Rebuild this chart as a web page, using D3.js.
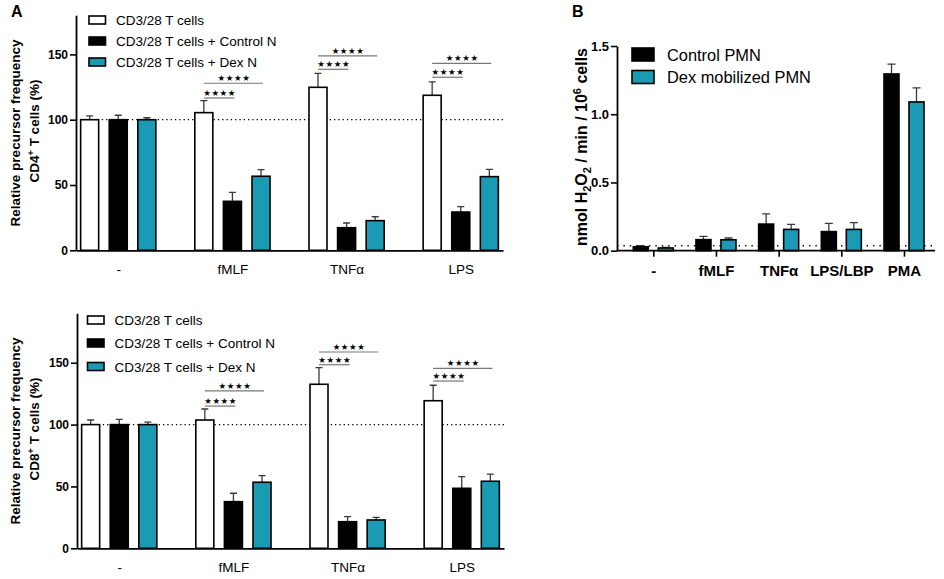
<!DOCTYPE html>
<html>
<head>
<meta charset="utf-8">
<script src="https://cdn.jsdelivr.net/npm/d3@7"></script>
<style>
  body { margin: 0; background: #fff; }
  svg { font-family: "Liberation Sans", Arial, sans-serif; }
</style>
</head>
<body>
<svg id="chart" width="944" height="579"></svg>
<script>
// ---- data ----
var stimuli = ['-', 'fMLF', 'TNF\u03b1', 'LPS'];
var seriesA = ['CD3/28 T cells', 'CD3/28 T cells + Control N', 'CD3/28 T cells + Dex N'];

// CD4+ panel: mean and mean+SEM, one row per series
var cd4Mean = [[100, 105.4, 124.8, 118.7], [100, 37.5, 17.3, 29.3], [100, 56.7, 22.7, 56.4]];
var cd4Upper = [[103, 114.6, 135.5, 128.9], [103.4, 44.4, 20.9, 33.4], [101.5, 61.7, 25.7, 62]];
// significance brackets: level of the short (vs Control N) and long (vs Dex N) bar
var cd4SigShort = [null, 116.6, 138.6, 132.5];
var cd4SigLong = [null, 127.9, 148.8, 143.2];

// CD8+ panel
var cd8Mean = [[100, 103.7, 132.6, 119.3], [100, 37.7, 21.5, 48.5], [100, 53.4, 22.9, 54.2]];
var cd8Upper = [[103.7, 112.6, 146, 131.8], [104.3, 44.5, 25.6, 57.9], [102, 58.7, 25, 60]];
var cd8SigShort = [null, 115, 148.4, 135.2];
var cd8SigLong = [null, 127.2, 158.7, 145.5];

var yTicksA = [0, 50, 100, 150];

// panel B
var stimuliB = ['-', 'fMLF', 'TNF\u03b1', 'LPS/LBP', 'PMA'];
var seriesB = ['Control PMN', 'Dex mobilized PMN'];
var h2o2Mean = [[0.029, 0.081, 0.195, 0.14, 1.295], [0.02, 0.08, 0.156, 0.156, 1.09]];
var h2o2Upper = [[0.037, 0.105, 0.27, 0.2, 1.367], [0.025, 0.093, 0.193, 0.205, 1.193]];
var h2o2Baseline = 0.036;
var yTicksB = [0, 0.5, 1.0, 1.5];

var fillsA = ['#ffffff', '#000000', '#1b9ab4'];
var fillsB = ['#000000', '#1b9ab4'];
var errColor = '#3a3a3a';

var svg = d3.select('#chart');

function drawPanelA(cfg) {
  var g = svg.append('g');
  var y = d3.scaleLinear().domain([0, cfg.yMax]).range([cfg.y0, cfg.yTop]);
  var x = d3.scalePoint().domain(stimuli).range([cfg.x0, cfg.x1]).padding(0.37);
  var inner = d3.scaleBand().domain(d3.range(seriesA.length)).range([-37.6, 37.6]).paddingInner(0.37);

  // dotted reference line at 100%
  g.append('line')
    .attr('x1', cfg.x0).attr('x2', cfg.x1)
    .attr('y1', y(100)).attr('y2', y(100))
    .attr('stroke', '#000').attr('stroke-width', 1.3)
    .attr('stroke-dasharray', '1.3,3');

  // bars + error bars
  seriesA.forEach(function(s, si) {
    var rows = stimuli.map(function(st, i) {
      return { st: st, v: cfg.mean[si][i], up: cfg.upper[si][i] };
    });
    var cx = function(d) { return x(d.st) + inner(si) + inner.bandwidth() / 2; };

    g.selectAll('.err' + si).data(rows).enter().append('path')
      .attr('d', function(d) {
        var c = cx(d);
        return 'M' + c + ',' + y(d.v) + 'V' + y(d.up) + 'M' + (c - 3.5) + ',' + y(d.up) + 'H' + (c + 3.5);
      })
      .attr('stroke', errColor).attr('stroke-width', 1.3).attr('fill', 'none');

    g.selectAll('.bar' + si).data(rows).enter().append('rect')
      .attr('x', function(d) { return x(d.st) + inner(si); })
      .attr('y', function(d) { return y(d.v); })
      .attr('width', inner.bandwidth())
      .attr('height', function(d) { return y(0) - y(d.v); })
      .attr('fill', fillsA[si])
      .attr('stroke', '#000').attr('stroke-width', 1.6);
  });

  // significance brackets
  stimuli.forEach(function(st, i) {
    if (cfg.sigShort[i] == null) return;
    var c0 = x(st) + inner(0) + inner.bandwidth() / 2;
    var c1 = x(st) + inner(1) + inner.bandwidth() / 2;
    var c2 = x(st) + inner(2) + inner.bandwidth() / 2;
    [[c1 + 2, cfg.sigShort[i]], [c2 + 2, cfg.sigLong[i]]].forEach(function(b) {
      g.append('line')
        .attr('x1', c0).attr('x2', b[0])
        .attr('y1', y(b[1])).attr('y2', y(b[1]))
        .attr('stroke', '#777').attr('stroke-width', 1.2);
      g.append('text')
        .attr('x', (c0 + b[0]) / 2 + 0.5).attr('y', y(b[1]) - 2)
        .attr('text-anchor', 'middle')
        .attr('font-family', '"DejaVu Sans", sans-serif')
        .attr('font-size', 8.5)
        .attr('letter-spacing', '0.6px')
        .text('\u2605\u2605\u2605\u2605');
    });
  });

  // axes
  var yAxis = g.append('g')
    .attr('transform', 'translate(' + cfg.x0 + ',0)')
    .call(d3.axisLeft(y).tickValues(yTicksA).tickSize(6).tickSizeOuter(0));
  yAxis.select('.domain').attr('stroke-width', 1.8);
  yAxis.selectAll('.tick line').attr('stroke-width', 1.6);
  yAxis.selectAll('.tick text')
    .attr('font-size', 12).attr('font-weight', 'bold')
    .attr('font-family', '"Liberation Sans", Arial, sans-serif').attr('x', -8);

  var xAxis = g.append('g')
    .attr('transform', 'translate(0,' + cfg.y0 + ')')
    .call(d3.axisBottom(x).tickSize(0));
  xAxis.select('.domain').attr('stroke-width', 1.8);
  xAxis.selectAll('.tick text')
    .attr('font-size', 13.5)
    .attr('font-family', '"Liberation Sans", Arial, sans-serif')
    .attr('dy', null).attr('y', cfg.labelY - cfg.y0);

  // y title, two lines
  g.append('text')
    .attr('transform', 'translate(' + 20 + ',' + cfg.titleY + ') rotate(-90)')
    .attr('text-anchor', 'middle')
    .attr('font-size', 13.5).attr('font-weight', 'bold')
    .text('Relative precursor frequency');
  var t2 = g.append('text')
    .attr('transform', 'translate(' + 39 + ',' + (cfg.titleY - 2) + ') rotate(-90)')
    .attr('text-anchor', 'middle')
    .attr('font-size', 13.5).attr('font-weight', 'bold');
  t2.append('tspan').text(cfg.cell);
  t2.append('tspan').attr('font-size', 9).attr('dy', -5).text('+');
  t2.append('tspan').attr('dy', 5).text(' T cells (%)');

  // legend
  seriesA.forEach(function(s, si) {
    var ly = cfg.legendY[si];
    g.append('rect')
      .attr('x', cfg.legendX).attr('y', ly - 4)
      .attr('width', 16.5).attr('height', 8)
      .attr('fill', fillsA[si]).attr('stroke', '#000').attr('stroke-width', 1.6);
    g.append('text')
      .attr('x', cfg.legendX + 27).attr('y', ly + 5)
      .attr('font-size', 13.5)
      .text(s);
  });
}

drawPanelA({
  mean: cd4Mean, upper: cd4Upper, sigShort: cd4SigShort, sigLong: cd4SigLong,
  yMax: 180, y0: 250.3, yTop: 250.3 - 180 * 1.306,
  x0: 76, x1: 503, labelY: 274, titleY: 133,
  cell: 'CD4', legendX: 89, legendY: [20, 41, 62]
});

drawPanelA({
  mean: cd8Mean, upper: cd8Upper, sigShort: cd8SigShort, sigLong: cd8SigLong,
  yMax: 190, y0: 548.3, yTop: 548.3 - 190 * 1.237,
  x0: 77, x1: 504, labelY: 572, titleY: 431,
  cell: 'CD8', legendX: 87.5, legendY: [320, 343, 366.5]
});

// ---- panel B ----
(function() {
  var g = svg.append('g');
  var axX0 = 617, axX1 = 935;
  var y = d3.scaleLinear().domain([0, 1.5]).range([250.7, 46]);
  var x = d3.scalePoint().domain(stimuliB).range([653.3, 904]);
  var inner = d3.scaleBand().domain(d3.range(seriesB.length)).range([-20, 20]).paddingInner(0.4);

  g.append('line')
    .attr('x1', axX0).attr('x2', axX1)
    .attr('y1', y(h2o2Baseline)).attr('y2', y(h2o2Baseline))
    .attr('stroke', '#000').attr('stroke-width', 1.4)
    .attr('stroke-dasharray', '1.4,5');

  seriesB.forEach(function(s, si) {
    var rows = stimuliB.map(function(st, i) {
      return { st: st, v: h2o2Mean[si][i], up: h2o2Upper[si][i] };
    });
    var cx = function(d) { return x(d.st) + inner(si) + inner.bandwidth() / 2; };

    g.selectAll('.errb' + si).data(rows).enter().append('path')
      .attr('d', function(d) {
        var c = cx(d);
        return 'M' + c + ',' + y(d.v) + 'V' + y(d.up) + 'M' + (c - 4) + ',' + y(d.up) + 'H' + (c + 4);
      })
      .attr('stroke', errColor).attr('stroke-width', 1.3).attr('fill', 'none');

    g.selectAll('.barb' + si).data(rows).enter().append('rect')
      .attr('x', function(d) { return x(d.st) + inner(si); })
      .attr('y', function(d) { return y(d.v); })
      .attr('width', inner.bandwidth())
      .attr('height', function(d) { return y(0) - y(d.v); })
      .attr('fill', fillsB[si])
      .attr('stroke', '#000').attr('stroke-width', 1.6);
  });

  var yAxis = g.append('g')
    .attr('transform', 'translate(' + axX0 + ',0)')
    .call(d3.axisLeft(y).tickValues(yTicksB).tickFormat(d3.format('.1f')).tickSize(6).tickSizeOuter(0));
  yAxis.select('.domain').attr('stroke-width', 1.8);
  yAxis.selectAll('.tick line').attr('stroke-width', 1.6);
  yAxis.selectAll('.tick text')
    .attr('font-size', 13).attr('font-weight', 'bold')
    .attr('font-family', '"Liberation Sans", Arial, sans-serif').attr('x', -8);

  var xAxis = g.append('g')
    .attr('transform', 'translate(0,' + y(0) + ')')
    .call(d3.axisBottom(x).tickSize(6).tickSizeOuter(0));
  xAxis.select('.domain').remove();
  xAxis.selectAll('.tick line').attr('stroke-width', 1.6);
  xAxis.selectAll('.tick text')
    .attr('font-size', 15).attr('font-weight', 'bold')
    .attr('font-family', '"Liberation Sans", Arial, sans-serif')
    .attr('dy', null).attr('y', 276 - 250.7);
  g.append('line')
    .attr('x1', axX0).attr('x2', axX1)
    .attr('y1', y(0)).attr('y2', y(0))
    .attr('stroke', '#000').attr('stroke-width', 1.8);

  // y title with sub/superscripts
  var t = g.append('text')
    .attr('transform', 'translate(' + 587 + ',' + 147 + ') rotate(-90)')
    .attr('text-anchor', 'middle')
    .attr('font-size', 16).attr('font-weight', 'bold');
  t.append('tspan').text('nmol H');
  t.append('tspan').attr('font-size', 11).attr('dy', 3.5).text('2');
  t.append('tspan').attr('dy', -3.5).text('O');
  t.append('tspan').attr('font-size', 11).attr('dy', 3.5).text('2');
  t.append('tspan').attr('dy', -3.5).text(' / min / 10');
  t.append('tspan').attr('font-size', 11).attr('dy', -6).text('6');
  t.append('tspan').attr('dy', 6).text(' cells');

  seriesB.forEach(function(s, si) {
    var ly = [54.5, 77][si];
    g.append('rect')
      .attr('x', 632).attr('y', ly - 6.5)
      .attr('width', 22).attr('height', 13)
      .attr('fill', fillsB[si]).attr('stroke', '#000').attr('stroke-width', 1.6);
    g.append('text')
      .attr('x', 667).attr('y', ly + 6)
      .attr('font-size', 16.4)
      .text(s);
  });
})();

// panel letters
svg.append('text').attr('x', 11).attr('y', 17).attr('font-size', 16).attr('font-weight', 'bold').text('A');
svg.append('text').attr('x', 572).attr('y', 17).attr('font-size', 16).attr('font-weight', 'bold').text('B');
</script>
</body>
</html>
